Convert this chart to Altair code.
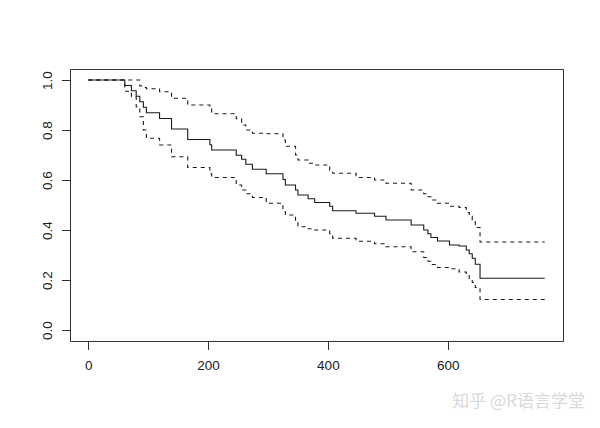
import altair as alt
import pandas as pd

# Kaplan-Meier estimate with confidence limits
times = [0, 61, 72, 80, 86, 92, 97, 119, 139, 166,
         203, 206, 247, 256, 263, 274, 297, 325, 329, 346,
         350, 367, 378, 403, 408, 447, 478, 497, 539, 560,
         567, 572, 583, 603, 619, 631, 636, 641, 646, 654,
         762]
surv = [1.0, 0.978, 0.957, 0.935, 0.913, 0.891, 0.869, 0.846, 0.804, 0.762,
        0.741, 0.720, 0.699, 0.683, 0.663, 0.643, 0.625, 0.602, 0.580, 0.560,
        0.540, 0.525, 0.510, 0.495, 0.477, 0.467, 0.455, 0.440, 0.420, 0.400,
        0.385, 0.370, 0.356, 0.340, 0.336, 0.320, 0.305, 0.287, 0.263, 0.207,
        0.207]
upper = [1.0, 1.0, 1.0, 1.0, 0.976, 0.970, 0.965, 0.953, 0.927, 0.900,
         0.885, 0.865, 0.845, 0.820, 0.800, 0.787, 0.785, 0.760, 0.735, 0.700,
         0.680, 0.667, 0.660, 0.640, 0.627, 0.610, 0.600, 0.587, 0.560, 0.545,
         0.533, 0.520, 0.507, 0.495, 0.490, 0.470, 0.455, 0.440, 0.410, 0.352,
         0.352]
lower = [1.0, 0.955, 0.933, 0.893, 0.853, 0.800, 0.767, 0.740, 0.693, 0.650,
         0.625, 0.610, 0.580, 0.560, 0.545, 0.530, 0.507, 0.480, 0.460, 0.430,
         0.413, 0.405, 0.400, 0.385, 0.367, 0.355, 0.345, 0.333, 0.313, 0.290,
         0.275, 0.262, 0.250, 0.245, 0.232, 0.220, 0.205, 0.190, 0.170, 0.122,
         0.122]

x_ticks = [0, 200, 400, 600]
y_ticks = [0.0, 0.2, 0.4, 0.6, 0.8, 1.0]
watermark = "知乎 @R语言学堂"

df_s = pd.DataFrame({"t": times, "v": surv})
df_ci = pd.concat([
    pd.DataFrame({"t": times, "v": upper, "s": "upper"}),
    pd.DataFrame({"t": times, "v": lower, "s": "lower"}),
])

xs = alt.Scale(domain=[-30.5, 792.5], nice=False, zero=False)
ys = alt.Scale(domain=[-0.044, 1.044], nice=False, zero=False)

font = "Liberation Sans"
xaxis = alt.Axis(values=x_ticks, title=None, grid=False, domain=False,
                 tickColor="#333", tickSize=8.5, labelFontSize=13.5,
                 labelFont=font, labelColor="#222", labelPadding=9, format="d")
yaxis = alt.Axis(values=y_ticks, title=None, grid=False, domain=False,
                 tickColor="#333", tickSize=8.5, labelFontSize=13.5,
                 labelFont=font, labelColor="#222", labelAngle=-90,
                 labelAlign="center", labelBaseline="bottom", labelPadding=7,
                 format=".1f")

solid = alt.Chart(df_s).mark_line(interpolate="step-after", color="#1a1a1a",
                                  strokeWidth=1.1).encode(
    x=alt.X("t:Q", scale=xs, axis=xaxis),
    y=alt.Y("v:Q", scale=ys, axis=yaxis),
)
dashed = alt.Chart(df_ci).mark_line(interpolate="step-after", color="#1a1a1a",
                                    strokeWidth=1.1, strokeDash=[4, 4]).encode(
    x=alt.X("t:Q", scale=xs),
    y=alt.Y("v:Q", scale=ys),
    detail="s:N",
)
wm = alt.Chart(pd.DataFrame({"txt": [watermark]})).mark_text(
    align="right", baseline="middle", fontSize=17, font="Noto Sans CJK SC",
    color="#d9d9d9").encode(
    text="txt:N", x=alt.value(515), y=alt.value(333))

chart = alt.layer(dashed, solid, wm).properties(
    width=493, height=272,
    autosize=alt.AutoSizeParams(type="none"),
    padding={"left": 62, "top": 61, "right": 29, "bottom": 80},
    background="white",
).configure_view(stroke="#333", strokeWidth=1)

chart.save("out.html", embed_options={"renderer": "svg", "actions": False})
